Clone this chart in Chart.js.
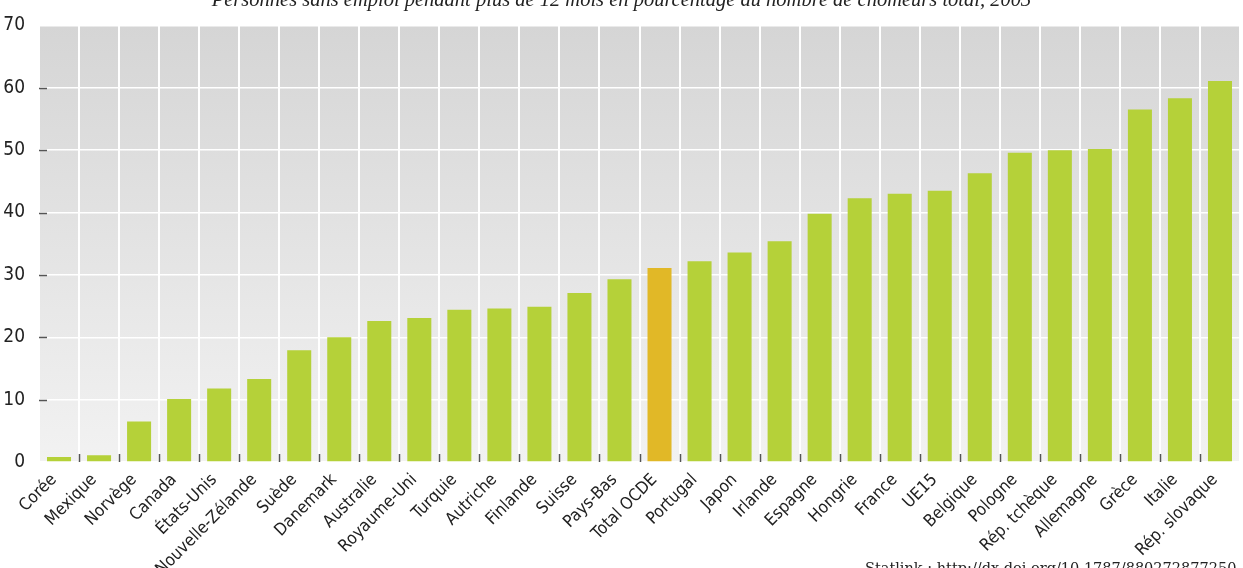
<!DOCTYPE html>
<html>
<head>
<meta charset="utf-8">
<script src="https://cdn.jsdelivr.net/npm/chart.js@4"></script>
<style>
html,body{margin:0;padding:0;background:#fff;overflow:hidden;}
#wrap{position:relative;width:1243px;height:568px;overflow:hidden;}
#title{position:absolute;left:0;width:1243px;top:-12px;text-align:center;font-family:"Liberation Serif",serif;font-style:italic;font-size:20.5px;color:#222;white-space:nowrap;}
#statlink{position:absolute;left:865px;top:560px;font-family:"DejaVu Serif",serif;font-size:14.5px;color:#222;white-space:nowrap;}
</style>
</head>
<body>
<div id="wrap">
<canvas id="c" width="1243" height="568"></canvas>
<div id="title">Personnes sans emploi pendant plus de 12 mois en pourcentage du nombre de chômeurs total, 2003</div>
<div id="statlink">Statlink : http://dx.doi.org/10.1787/880272877250</div>
</div>
<script>
const categories = ["Corée","Mexique","Norvège","Canada","États-Unis","Nouvelle-Zélande","Suède","Danemark","Australie","Royaume-Uni","Turquie","Autriche","Finlande","Suisse","Pays-Bas","Total OCDE","Portugal","Japon","Irlande","Espagne","Hongrie","France","UE15","Belgique","Pologne","Rép. tchèque","Allemagne","Grèce","Italie","Rép. slovaque"];
const values = [0.8,1.1,6.5,10.1,11.8,13.3,17.9,20.0,22.6,23.1,24.4,24.6,24.9,27.1,29.3,31.1,32.2,33.6,35.4,39.8,42.3,43.0,43.5,46.3,49.6,50.0,50.2,56.5,58.3,61.1];
const highlight = "Total OCDE";
const yTicks = [0,10,20,30,40,50,60,70];

const GREEN = "#b5d139";
const GOLD = "#e1b827";

const bgPlugin = {
  id: "bg",
  beforeDraw(chart) {
    const {ctx, chartArea: a} = chart;
    const g = ctx.createLinearGradient(0, a.top, 0, a.bottom);
    g.addColorStop(0, "#d5d5d5");
    g.addColorStop(1, "#f2f2f2");
    ctx.save();
    ctx.fillStyle = g;
    ctx.fillRect(a.left, a.top, a.right - a.left, a.bottom - a.top);
    ctx.restore();
  },
  afterDatasetsDraw(chart) {
    const {ctx, chartArea: a, scales} = chart;
    const x = scales.x, y = scales.y;
    ctx.save();
    ctx.strokeStyle = "#555";
    ctx.lineWidth = 1.5;
    ctx.beginPath();
    for (let i = 1; i < categories.length; i++) {
      const px = Math.round((x.getPixelForValue(i - 1) + x.getPixelForValue(i)) / 2) + 0.5;
      ctx.moveTo(px, a.bottom);
      ctx.lineTo(px, a.bottom - 8);
    }
    for (const t of yTicks) {
      if (t === 0 || t === 70) continue;
      const py = Math.round(y.getPixelForValue(t)) + 0.5;
      ctx.moveTo(a.left, py);
      ctx.lineTo(a.left + 8, py);
    }
    ctx.stroke();
    ctx.restore();
  }
};

new Chart(document.getElementById("c"), {
  type: "bar",
  data: {
    labels: categories,
    datasets: [{
      data: values,
      backgroundColor: categories.map(c => c === highlight ? GOLD : GREEN),
      borderWidth: 0,
      barPercentage: 0.6,
      categoryPercentage: 1.0
    }]
  },
  options: {
    responsive: false,
    animation: false,
    devicePixelRatio: 1,
    layout: {padding: {top: 21, right: 3, left: 0, bottom: 0}},
    plugins: {legend: {display: false}, tooltip: {enabled: false}, title: {display: false}},
    scales: {
      x: {
        grid: {display: true, offset: true, color: "#ffffff", lineWidth: 2, drawTicks: false},
        border: {display: false},
        ticks: {
          color: "#222",
          font: {family: "'Liberation Sans Narrow','DejaVu Sans Condensed',sans-serif", size: 17},
          minRotation: 45, maxRotation: 45, autoSkip: false, padding: 8, labelOffset: -5
        },
        afterFit(s) { s.height = 106; }
      },
      y: {
        min: 0, max: 70,
        grid: {color: "#ffffff", lineWidth: 1.5, drawTicks: false},
        border: {display: false},
        ticks: {
          stepSize: 10,
          color: "#222",
          padding: 14,
          font: {family: "'Liberation Sans Narrow','DejaVu Sans Condensed',sans-serif", size: 19}
        },
        afterFit(s) { s.width = 39; }
      }
    }
  },
  plugins: [bgPlugin]
});
</script>
</body>
</html>
